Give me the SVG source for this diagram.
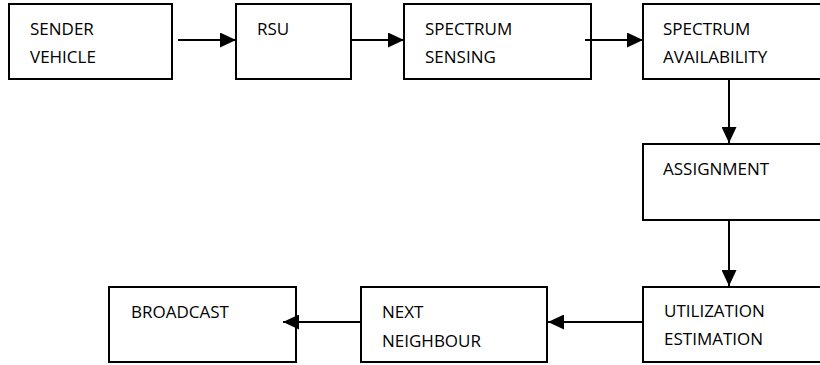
<svg xmlns="http://www.w3.org/2000/svg" width="820" height="365" viewBox="0 0 820 365">
<style>
.box{fill:#fff;stroke:#000;stroke-width:2}
.lbl{font-family:"Open Sans","Liberation Sans",sans-serif;font-size:17px;fill:#000}
.conn{stroke:#000;stroke-width:2;fill:none;marker-end:url(#ah)}
</style>
<defs>
<marker id="ah" markerUnits="userSpaceOnUse" markerWidth="16" markerHeight="15" refX="16" refY="7.5" orient="auto">
<path d="M0,0 L16,7.5 L0,15 z" fill="#000"/>
</marker>
</defs>
<rect width="820" height="365" fill="#fff"/>
<g id="n-sender">
<rect class="box" x="9" y="4" width="163" height="75"/>
<text class="lbl" x="30" y="35">SENDER</text>
<text class="lbl" x="30" y="63">VEHICLE</text>
</g>
<g id="n-rsu">
<rect class="box" x="236" y="4" width="115" height="75"/>
<text class="lbl" x="257" y="35">RSU</text>
</g>
<g id="n-sensing">
<rect class="box" x="404" y="4" width="187" height="75"/>
<text class="lbl" x="425" y="35">SPECTRUM</text>
<text class="lbl" x="425" y="63">SENSING</text>
</g>
<g id="n-availability">
<rect class="box" x="643" y="4" width="200" height="75"/>
<text class="lbl" x="663" y="35">SPECTRUM</text>
<text class="lbl" x="663" y="63">AVAILABILITY</text>
</g>
<g id="n-assignment">
<rect class="box" x="643" y="144" width="200" height="76"/>
<text class="lbl" x="663" y="175">ASSIGNMENT</text>
</g>
<g id="n-utilization">
<rect class="box" x="643" y="287" width="200" height="75"/>
<text class="lbl" x="664" y="317">UTILIZATION</text>
<text class="lbl" x="664" y="345">ESTIMATION</text>
</g>
<g id="n-neighbour">
<rect class="box" x="361" y="287" width="186" height="75"/>
<text class="lbl" x="382" y="318">NEXT</text>
<text class="lbl" x="382" y="347">NEIGHBOUR</text>
</g>
<g id="n-broadcast">
<rect class="box" x="109" y="287" width="187" height="75"/>
<text class="lbl" x="131" y="318">BROADCAST</text>
</g>
<g id="connectors">
<line class="conn" x1="178" y1="40" x2="236" y2="40"/>
<line class="conn" x1="351" y1="40" x2="404" y2="40"/>
<line class="conn" x1="585" y1="40" x2="643" y2="40"/>
<line class="conn" x1="729" y1="79" x2="729" y2="143"/>
<line class="conn" x1="729" y1="220" x2="729" y2="286"/>
<line class="conn" x1="643" y1="322" x2="548" y2="322"/>
<line class="conn" x1="361" y1="322" x2="283" y2="322"/>
</g>
</svg>
